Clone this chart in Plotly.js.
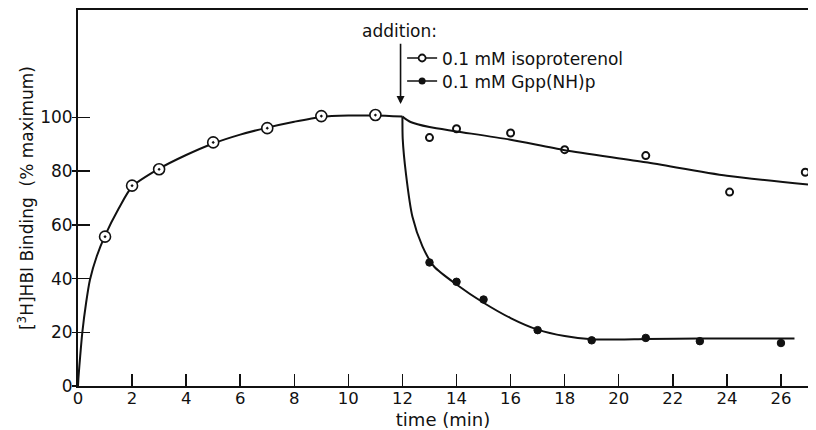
<!DOCTYPE html>
<html>
<head>
<meta charset="utf-8">
<script src="https://cdn.plot.ly/plotly-3.0.1.min.js"></script>
<style>html,body{margin:0;padding:0;background:#fff}#chart{width:816px;height:430px}</style>
</head>
<body>
<div id="chart"></div>
<script>
// Measured data points
const initTime = [1, 2, 3, 5, 7, 9, 11];
const initBinding = [55.6, 74.6, 80.7, 90.7, 96, 100.5, 100.9];

const isoTime = [13, 14, 16, 18, 21, 24.1, 26.9];
const isoBinding = [92.5, 95.8, 94.2, 88, 85.8, 72.2, 79.6];

const gppTime = [13, 14, 15, 17, 19, 21, 23, 26];
const gppBinding = [46, 38.8, 32.2, 20.8, 17, 17.9, 16.7, 16];

// Hand-drawn fitted curves
const initFitTime = [0, 0.02, 0.08, 0.16, 0.3, 0.44, 0.7, 1, 1.5, 2, 3, 4, 5, 6, 7, 8, 9, 10, 11, 12];
const initFitBinding = [0, 3.5, 11, 20, 31, 39.5, 48.5, 56, 66, 74.2, 80.9, 86, 90.3, 93.6, 96.2, 98.4, 100.2, 100.7, 100.7, 100.3];

const isoFitTime = [12, 12.3, 13, 14, 16, 18, 21, 24, 27];
const isoFitBinding = [100.3, 98.3, 96.4, 94.8, 91.7, 87.8, 83.3, 78.3, 75];

const gppFitTime = [12, 12.01, 12.13, 12.37, 12.74, 13.17, 14, 15, 16, 17, 18, 19, 20, 21, 23, 26.5];
const gppFitBinding = [100.3, 92, 79, 63, 52, 44.5, 37.8, 31, 25.3, 21, 18.6, 17.4, 17.3, 17.5, 17.7, 17.7];

const xTicks = [0, 2, 4, 6, 8, 10, 12, 14, 16, 18, 20, 22, 24, 26];
const yTicks = [0, 20, 40, 60, 80, 100];

const legendNames = ['0.1 mM isoproterenol', '0.1 mM Gpp(NH)p'];

const FONT = 'DejaVu Sans, Arial, sans-serif';
const lineStyle = {color: '#111', width: 2};

const traces = [
  {x: initFitTime, y: initFitBinding, mode: 'lines', line: Object.assign({shape: 'spline', smoothing: 0.7}, lineStyle), showlegend: false, hoverinfo: 'skip'},
  {x: isoFitTime, y: isoFitBinding, mode: 'lines', line: Object.assign({shape: 'spline', smoothing: 0.7}, lineStyle), showlegend: false, hoverinfo: 'skip'},
  {x: gppFitTime, y: gppFitBinding, mode: 'lines', line: Object.assign({shape: 'spline', smoothing: 0.7}, lineStyle), showlegend: false, hoverinfo: 'skip'},
  {x: initTime, y: initBinding, mode: 'markers', name: 'before addition', showlegend: false,
   marker: {symbol: 'circle-dot', size: 11, color: '#fff', line: {color: '#111', width: 1.6}}},
  {x: isoTime, y: isoBinding, mode: 'markers', name: legendNames[0], showlegend: false,
   marker: {symbol: 'circle-open', size: 7, color: '#111', line: {color: '#111', width: 2}}},
  {x: gppTime, y: gppBinding, mode: 'markers', name: legendNames[1], showlegend: false,
   marker: {symbol: 'circle', size: 7.5, color: '#111', line: {color: '#111', width: 1}}},
  // legend proxies (no data)
  {x: [null], y: [null], mode: 'lines+markers', name: legendNames[0], showlegend: true, legend: 'legend',
   line: {color: '#111', width: 1.5}, marker: {symbol: 'circle', size: 7, color: '#fff', line: {color: '#111', width: 1.8}}},
  {x: [null], y: [null], mode: 'lines+markers', name: legendNames[1], showlegend: true, legend: 'legend2',
   line: {color: '#111', width: 1.5}, marker: {symbol: 'circle', size: 7, color: '#111'}},
  // overlay axis for the short outside part of y ticks
  {x: [null], y: [null], yaxis: 'y2', mode: 'markers', showlegend: false, hoverinfo: 'skip'}
];

const legendStyle = {x: 0.444, xanchor: 'left', yanchor: 'top', bgcolor: 'rgba(0,0,0,0)',
  font: {family: FONT, size: 17, color: '#111'}, itemwidth: 30, tracegroupgap: 0};

const layout = {
  width: 816, height: 430,
  margin: {l: 78, r: 8, t: 10, b: 44},
  paper_bgcolor: '#fff', plot_bgcolor: '#fff',
  font: {family: FONT, color: '#111', size: 16},
  showlegend: true,
  legend: Object.assign({y: 0.919}, legendStyle),
  legend2: Object.assign({y: 0.858}, legendStyle),
  xaxis: {
    range: [0, 27], tickvals: xTicks, ticktext: xTicks.map(String),
    ticks: 'inside', ticklen: 12, tickwidth: 1.5, tickcolor: '#111',
    showline: true, linecolor: '#111', linewidth: 2, mirror: true,
    showgrid: false, zeroline: false,
    tickfont: {family: FONT, size: 16.5, color: '#111'},
    ticklabelstandoff: -4,
    title: {text: 'time (min)', font: {family: FONT, size: 18, color: '#111'}}
  },
  yaxis: {
    range: [0, 140], tickvals: yTicks, ticktext: yTicks.map(String),
    ticks: 'inside', ticklen: 12, tickwidth: 1.5, tickcolor: '#111',
    showline: true, linecolor: '#111', linewidth: 2,
    showgrid: false, zeroline: false,
    tickfont: {family: FONT, size: 17, color: '#111'},
    title: {text: '[<sup>3</sup>H]HBI Binding  (% maximum)', font: {family: FONT, size: 17, color: '#111'}}
  },
  yaxis2: {
    overlaying: 'y', side: 'left', range: [0, 140], tickvals: yTicks,
    ticks: 'outside', ticklen: 5, tickwidth: 1.5, tickcolor: '#111',
    showticklabels: false, showline: false, showgrid: false, zeroline: false
  },
  annotations: [
    {x: 11.9, y: 132, xref: 'x', yref: 'y', text: 'addition:', showarrow: false,
     font: {family: FONT, size: 17, color: '#111'}},
    {x: 11.93, y: 105, xref: 'x', yref: 'y', ax: 11.93, ay: 128, axref: 'x', ayref: 'y',
     text: '', showarrow: true, arrowhead: 2, arrowsize: 1, arrowwidth: 1.6, arrowcolor: '#111'}
  ]
};

Plotly.newPlot('chart', traces, layout, {displayModeBar: false, staticPlot: true});
</script>
</body>
</html>
